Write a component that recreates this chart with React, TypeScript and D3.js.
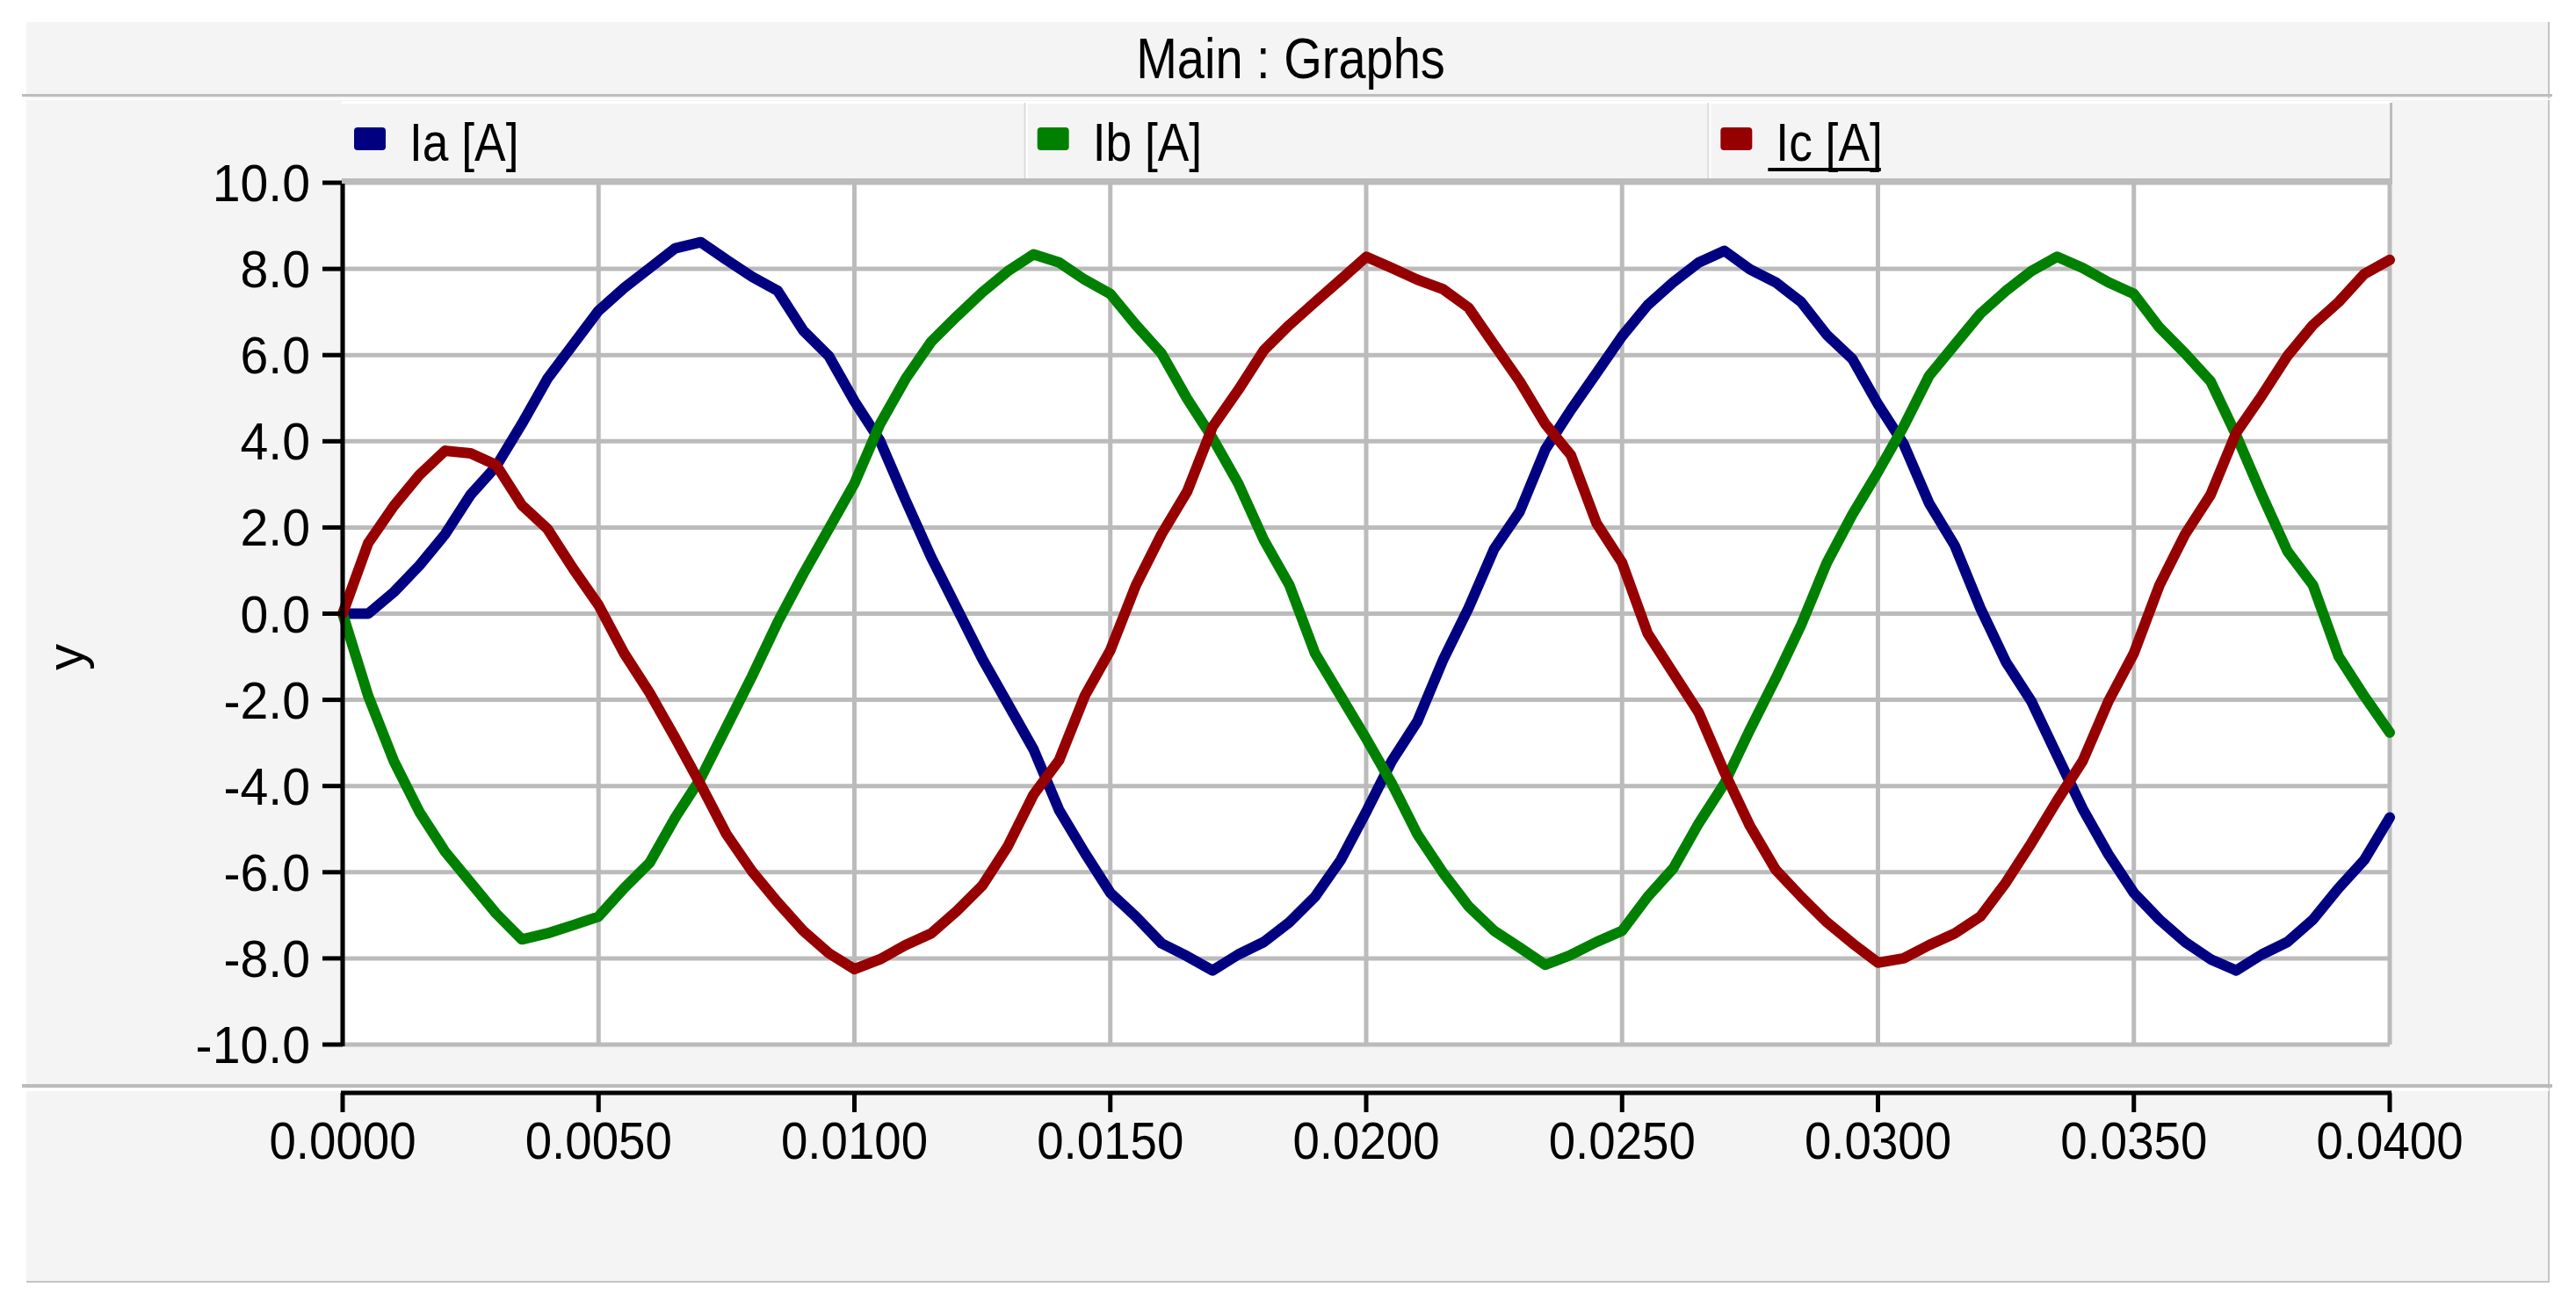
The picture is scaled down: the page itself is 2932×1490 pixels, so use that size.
import React, { useEffect, useRef } from "react";
import * as d3 from "d3";

// sample times in ms (read every 0.5 ms)
const timeMs = [
  0, 0.5, 1, 1.5, 2, 2.5, 3, 3.5, 4, 4.5, 5, 5.5, 6, 6.5, 7, 7.5, 8, 8.5, 9, 9.5,
  10, 10.5, 11, 11.5, 12, 12.5, 13, 13.5, 14, 14.5, 15, 15.5, 16, 16.5, 17, 17.5, 18, 18.5, 19, 19.5,
  20, 20.5, 21, 21.5, 22, 22.5, 23, 23.5, 24, 24.5, 25, 25.5, 26, 26.5, 27, 27.5, 28, 28.5, 29, 29.5,
  30, 30.5, 31, 31.5, 32, 32.5, 33, 33.5, 34, 34.5, 35, 35.5, 36, 36.5, 37, 37.5, 38, 38.5, 39, 39.5,
  40,
];

const ia = [
  0, 0, 0.5, 1.12, 1.84, 2.76, 3.42, 4.4, 5.45, 6.24, 7.03, 7.56, 8.02, 8.48, 8.62, 8.21, 7.82, 7.49, 6.57, 5.98,
  4.93, 4.01, 2.63, 1.31, 0.13, -1.05, -2.1, -3.15, -4.56, -5.55, -6.48, -7.03, -7.65, -7.95, -8.28, -7.91, -7.62, -7.16, -6.57, -5.72,
  -4.6, -3.42, -2.5, -1.08, 0.13, 1.5, 2.37, 3.81, 4.73, 5.58, 6.44, 7.16, 7.69, 8.15, 8.42, 7.99, 7.69, 7.23, 6.47, 5.91,
  4.86, 3.94, 2.56, 1.58, 0.13, -1.12, -2.04, -3.29, -4.53, -5.58, -6.48, -7.1, -7.62, -8.02, -8.28, -7.91, -7.62, -7.1, -6.37, -5.72,
  -4.73,
];

const ib = [
  0, -1.91, -3.42, -4.6, -5.52, -6.24, -6.96, -7.56, -7.42, -7.23, -7.03, -6.37, -5.78, -4.73, -3.81, -2.63, -1.45, -0.2, 0.92, 1.97,
  3.02, 4.4, 5.45, 6.31, 6.9, 7.46, 7.95, 8.34, 8.15, 7.75, 7.42, 6.7, 6.04, 4.99, 4.07, 3.02, 1.71, 0.66, -0.92, -1.91,
  -2.9, -3.94, -5.12, -6.01, -6.79, -7.36, -7.75, -8.15, -7.92, -7.62, -7.36, -6.57, -5.91, -4.86, -3.94, -2.69, -1.51, -0.26, 1.18, 2.3,
  3.29, 4.34, 5.52, 6.24, 6.96, 7.49, 7.95, 8.28, 8.02, 7.69, 7.42, 6.64, 6.04, 5.39, 4.14, 2.76, 1.45, 0.66, -0.99, -1.91,
  -2.76,
];

const ic = [
  0, 1.64, 2.5, 3.22, 3.78, 3.72, 3.45, 2.52, 1.97, 1.05, 0.2, -0.92, -1.84, -2.89, -3.98, -5.12, -5.98, -6.7, -7.36, -7.88,
  -8.25, -8.02, -7.69, -7.42, -6.9, -6.31, -5.39, -4.2, -3.4, -1.91, -0.85, 0.66, 1.84, 2.83, 4.34, 5.19, 6.11, 6.7, 7.23, 7.75,
  8.28, 8.02, 7.75, 7.53, 7.1, 6.24, 5.39, 4.4, 3.68, 2.1, 1.18, -0.46, -1.38, -2.3, -3.68, -4.93, -5.94, -6.57, -7.16, -7.65,
  -8.1, -8.0, -7.69, -7.42, -7.03, -6.24, -5.32, -4.34, -3.42, -2.04, -0.92, 0.66, 1.84, 2.76, 4.2, 5.06, 5.98, 6.7, 7.23, 7.88,
  8.21,
];

const seriesNames = ["Ia [A]", "Ib [A]", "Ic [A]"];
const seriesColors = ["#000080", "#008000", "#960000"];
const yTicks = [-10, -8, -6, -4, -2, 0, 2, 4, 6, 8, 10];
const xTicks = [0, 0.005, 0.01, 0.015, 0.02, 0.025, 0.03, 0.035, 0.04];

const W = 2932;
const H = 1490;
const FONT = "'Liberation Sans', Arial, sans-serif";

// plain hyphen for negatives, like the original tool
const fmt1 = (v: number) => d3.format(".1f")(v).replace("\u2212", "-");
const fmt4 = (v: number) => d3.format(".4f")(v).replace("\u2212", "-");

const App = () => {
  const svgRef = useRef<SVGSVGElement>(null);

  useEffect(() => {
    const svg = d3.select(svgRef.current);
    svg.selectAll("*").remove();

    const left = 390, right = 2720, top = 208, bottom = 1189;
    const x = d3.scaleLinear().domain([0, 0.04]).range([left, right]);
    const y = d3.scaleLinear().domain([-10, 10]).range([bottom, top]);

    // page + outer panel
    svg.append("rect").attr("width", W).attr("height", H).attr("fill", "#fff");
    svg.append("rect").attr("x", 30).attr("y", 25).attr("width", 2871).attr("height", 1434).attr("fill", "#f4f4f4");
    svg.append("path").attr("d", "M2901,25V1459H30").attr("fill", "none").attr("stroke", "#c4c4c4").attr("stroke-width", 2);

    // title bar
    svg.append("text")
      .attr("transform", "translate(1469,89) scale(0.875,1)")
      .attr("text-anchor", "middle")
      .attr("font-family", FONT)
      .attr("font-size", 64)
      .text("Main : Graphs");
    svg.append("rect").attr("x", 25).attr("y", 107).attr("width", 2880).attr("height", 3).attr("fill", "#bdbdbd");
    svg.append("rect").attr("x", 25).attr("y", 112).attr("width", 2880).attr("height", 2).attr("fill", "#fff");

    // plot background + grid
    svg.append("rect").attr("x", left).attr("y", top).attr("width", right - left).attr("height", bottom - top).attr("fill", "#fff");
    const grid = svg.append("g").attr("stroke", "#bbbbbb").attr("stroke-width", 5);
    grid.selectAll("line.v").data(xTicks).enter().append("line")
      .attr("x1", (d) => x(d)).attr("x2", (d) => x(d)).attr("y1", top).attr("y2", bottom);
    grid.selectAll("line.h").data(yTicks).enter().append("line")
      .attr("x1", left).attr("x2", right).attr("y1", (d) => y(d)).attr("y2", (d) => y(d));

    // curves
    const line = d3.line<number>()
      .x((_, i) => x(timeMs[i] / 1000))
      .y((d) => y(d));
    [ia, ib, ic].forEach((s, k) => {
      svg.append("path")
        .attr("d", line(s))
        .attr("fill", "none")
        .attr("stroke", seriesColors[k])
        .attr("stroke-width", 12)
        .attr("stroke-linejoin", "round")
        .attr("stroke-linecap", "round");
    });

    // y axis
    svg.append("line").attr("x1", left).attr("x2", left).attr("y1", top - 2).attr("y2", bottom + 2)
      .attr("stroke", "#000").attr("stroke-width", 5);
    const yAx = svg.append("g");
    yAx.selectAll("line").data(yTicks).enter().append("line")
      .attr("x1", 367).attr("x2", left).attr("y1", (d) => y(d)).attr("y2", (d) => y(d))
      .attr("stroke", "#000").attr("stroke-width", 5);
    yAx.selectAll("text").data(yTicks).enter().append("text")
      .attr("transform", (d) => `translate(353,${y(d) + 21}) scale(0.97,1)`)
      .attr("text-anchor", "end")
      .attr("font-family", FONT)
      .attr("font-size", 59)
      .text((d) => fmt1(d));
    svg.append("text")
      .attr("transform", "translate(95,748) rotate(-90)")
      .attr("text-anchor", "middle")
      .attr("font-family", FONT)
      .attr("font-size", 60)
      .text("y");

    // legend
    const band = d3.scaleBand<string>().domain(seriesNames).range([389, 2722]);
    const lg = svg.append("g");
    lg.append("rect").attr("x", 389).attr("y", 115).attr("width", 2722 - 389).attr("height", 90).attr("fill", "#f4f4f4");
    lg.append("rect").attr("x", 389).attr("y", 115).attr("width", 2722 - 389).attr("height", 3).attr("fill", "#fff");
    seriesNames.forEach((name, k) => {
      const bx = band(name)!;
      if (k > 0) {
        lg.append("rect").attr("x", bx - 1).attr("y", 117).attr("width", 2).attr("height", 88).attr("fill", "#dadada");
        lg.append("rect").attr("x", bx + 1).attr("y", 117).attr("width", 2).attr("height", 88).attr("fill", "#fff");
      }
      lg.append("rect").attr("x", bx + 14).attr("y", 145).attr("width", 36).attr("height", 26).attr("rx", 4)
        .attr("fill", seriesColors[k]);
      const t = lg.append("text")
        .attr("transform", `translate(${bx + 77},183) scale(0.86,1)`)
        .attr("font-family", FONT)
        .attr("font-size", 62)
        .text(name);
      if (k === 2) {
        const w = (t.node() as SVGTextElement).getComputedTextLength() * 0.86;
        lg.append("rect").attr("x", bx + 68).attr("y", 191).attr("width", w + 7).attr("height", 4).attr("fill", "#000");
      }
    });
    lg.append("rect").attr("x", 2720).attr("y", 117).attr("width", 3).attr("height", 93).attr("fill", "#bbbbbb");
    lg.append("rect").attr("x", 389).attr("y", 203).attr("width", 2722 - 389).attr("height", 6).attr("fill", "#bbbbbb");

    // x axis panel
    svg.append("rect").attr("x", 25).attr("y", 1234).attr("width", 2880).attr("height", 4).attr("fill", "#bbbbbb");
    svg.append("rect").attr("x", 25).attr("y", 1239).attr("width", 2876).attr("height", 3).attr("fill", "#fff");
    svg.append("line").attr("x1", left - 2).attr("x2", right + 2).attr("y1", 1244).attr("y2", 1244)
      .attr("stroke", "#000").attr("stroke-width", 5);
    const xAx = svg.append("g");
    xAx.selectAll("line").data(xTicks).enter().append("line")
      .attr("x1", (d) => x(d)).attr("x2", (d) => x(d)).attr("y1", 1244).attr("y2", 1266)
      .attr("stroke", "#000").attr("stroke-width", 5);
    xAx.selectAll("text").data(xTicks).enter().append("text")
      .attr("transform", (d) => `translate(${x(d)},1319) scale(0.91,1)`)
      .attr("text-anchor", "middle")
      .attr("font-family", FONT)
      .attr("font-size", 60)
      .text((d) => fmt4(d));
  }, []);

  return <svg ref={svgRef} width={W} height={H} style={{ position: "absolute", left: 0, top: 0 }} />;
};

export default App;
